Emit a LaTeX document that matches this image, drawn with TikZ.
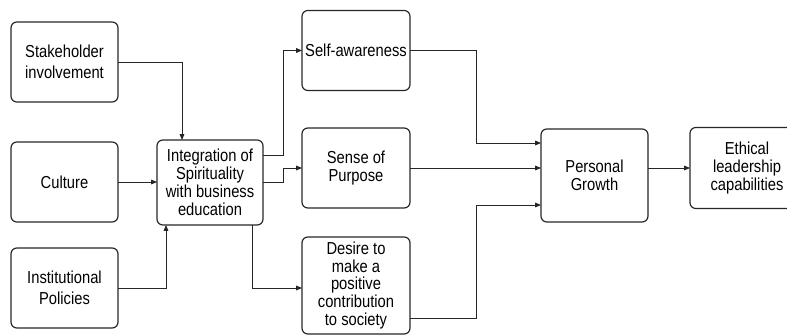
\documentclass[tikz,border=0pt]{standalone}
\usepackage{fontspec}
\setmainfont{Liberation Sans}[FakeStretch=0.85]
\usepackage{tikz}
\usetikzlibrary{positioning}
\usetikzlibrary{calc}
\usetikzlibrary{arrows.meta}

\begin{document}
\begin{tikzpicture}[
x=0.03cm, y=-0.03cm,
roundbox/.style={
    rectangle,
    rounded corners=5pt,
    draw=black!85,
    line width=1pt,
    align=center,
    font=\fontsize{14.8}{15.2}\selectfont,
    inner sep=0pt, % No inner spacing
    outer sep=0pt, % No outer spacing
},
leftbox/.style={
    roundbox,
    minimum width=3.21cm,
    minimum height=2.4cm,
    font=\fontsize{14.8}{17.5}\selectfont,
},
midbox/.style={
    roundbox,
    minimum width=3.24cm,
    minimum height=2.4cm,
},
arr/.style={
    draw=black!85,
    line width=0.8pt,
    -{Triangle[length=5pt,width=4pt]},
},
]
\useasboundingbox (0,0) rectangle (787,335);

\node[leftbox] (stake) at (64.5,62)  {Stakeholder\\involvement};
\node[leftbox] (cult)  at (64.5,182) {Culture};
\node[leftbox] (inst)  at (64.5,288) {Institutional\\Policies};

\node[roundbox, minimum width=3.18cm, minimum height=2.55cm] (integ) at (210,182.5)
    {Integration of\\Spirituality\\with business\\education};

\node[midbox] (self)  at (356,50.5) {Self-awareness};
\node[midbox] (sense) at (356,168)  {Sense of\\Purpose};
\node[midbox, minimum height=2.91cm] (desire) at (356,285.5)
    {Desire to\\make a\\positive\\contribution\\to society};

\node[roundbox, minimum width=3.21cm, minimum height=2.79cm] (growth) at (594.5,175.5)
    {Personal\\Growth};
\node[midbox, minimum width=3.42cm, minimum height=2.43cm] (ethic) at (747,168)
    {Ethical\\leadership\\capabilities};

\draw[arr] (stake.east) -| ($(integ.north west)+(25,0)$);
\draw[arr] (cult.east) -- (cult.east -| integ.west);
\draw[arr] (inst.east) -| ($(integ.south west)+(9,0)$);

\draw[arr] ($(integ.north east)+(0,15)$) -- ++(20,0) |- (self.west);
\draw[arr] (integ.east) -- ++(20,0) |- (sense.west);
\draw[arr] ($(integ.south east)+(-11,0)$) |- ($(desire.west)+(0,2.5)$);

\draw[arr] (self.east) -- ++(66,0) |- ($(growth.north west)+(0,14)$);
\draw[arr] (sense.east) -- (sense.east -| growth.west);
\draw[arr] ($(desire.east)+(0,32.5)$) -- ++(66,0) |- ($(growth.south west)+(0,-17)$);

\draw[arr] (ethic.west -| growth.east) -- (ethic.west);

\end{tikzpicture}
\end{document}
